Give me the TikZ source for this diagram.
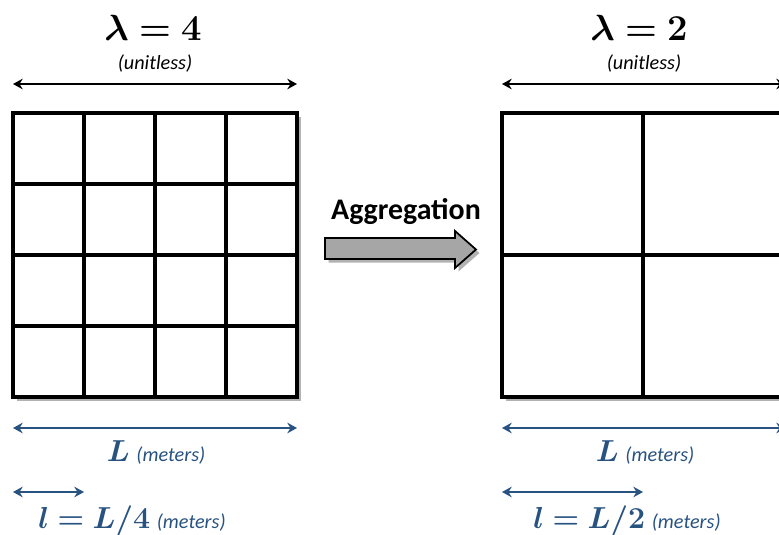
\documentclass[tikz,border=0pt]{standalone}
\usepackage[no-math]{fontspec}
\setmainfont{Carlito}
\usepackage{bm}
\usetikzlibrary{arrows.meta,shadows}
\definecolor{dimblue}{RGB}{40,82,128}
\definecolor{arrowgray}{RGB}{166,166,166}
\tikzset{
  cell/.style={line width=2pt},
  dimline/.style={line width=1.1pt,{Stealth[length=5.5pt,width=6pt]}-{Stealth[length=5.5pt,width=6pt]}},
  unittext/.style={font=\fontsize{11.5}{13}\selectfont\itshape},
  gridshadow/.style={drop shadow={shadow xshift=2.5pt,shadow yshift=-2.5pt,opacity=0.3,fill=black}},
  lambdatext/.style={font=\fontsize{20}{24}\selectfont},
  lengthtext/.style={dimblue,anchor=base,font=\fontsize{17}{20}\selectfont},
}
\begin{document}
\begin{tikzpicture}[x=0.02cm,y=-0.02cm]
\useasboundingbox (0,0) rectangle (779,535);

% fine grid, lambda = 4
\node[lambdatext] (lamA) at (153,28) {$\bm{\lambda = 4}$};
\node[unittext,anchor=base] (unitA) at (155,69) {(unitless)};
\coordinate (topA1) at (13,84);
\coordinate (topA2) at (297,84);
\draw[dimline] (topA1) -- (topA2);

\draw[cell,fill=white,gridshadow] (13,113) rectangle (297,397);
\foreach \x in {84,155,226} \draw[cell] (\x,113) -- (\x,397);
\foreach \y in {184,255,326} \draw[cell] (13,\y) -- (297,\y);

\coordinate (bigA1) at (13,428);
\coordinate (bigA2) at (297,428);
\draw[dimline,dimblue] (bigA1) -- (bigA2);
\node[lengthtext] (lenA) at (156,461) {$\bm{L}$ {\fontsize{11.5}{13}\selectfont\itshape (meters)}};
\coordinate (smallA1) at (13,492);
\coordinate (smallA2) at (84,492);
\draw[dimline,dimblue] (smallA1) -- (smallA2);
\node[lengthtext] (cellA) at (132,528) {$\bm{l = L/4}$ {\fontsize{11.5}{13}\selectfont\itshape (meters)}};

% aggregation arrow
\node[font=\fontsize{17}{19}\selectfont\bfseries,anchor=base] (agg) at (406,219) {Aggregation};
\draw[line width=1pt,fill=arrowgray,drop shadow={shadow xshift=2pt,shadow yshift=-2pt,opacity=0.3,fill=black}]
  (325,238) -- (455,238) -- (455,231) -- (476,249.5) -- (455,268) -- (455,259) -- (325,259) -- cycle;

% coarse grid, lambda = 2
\node[lambdatext] (lamB) at (639,28) {$\bm{\lambda = 2}$};
\node[unittext,anchor=base] (unitB) at (644,69) {(unitless)};
\coordinate (topB1) at (502,84);
\coordinate (topB2) at (786,84);
\draw[dimline] (topB1) -- (topB2);

\draw[cell,fill=white,gridshadow] (502,113) rectangle (786,397);
\draw[cell] (643,113) -- (643,397);
\draw[cell] (502,255) -- (786,255);

\coordinate (bigB1) at (502,428);
\coordinate (bigB2) at (786,428);
\draw[dimline,dimblue] (bigB1) -- (bigB2);
\node[lengthtext] (lenB) at (645,461) {$\bm{L}$ {\fontsize{11.5}{13}\selectfont\itshape (meters)}};
\coordinate (smallB1) at (502,492);
\coordinate (smallB2) at (643,492);
\draw[dimline,dimblue] (smallB1) -- (smallB2);
\node[lengthtext] (cellB) at (627,528) {$\bm{l = L/2}$ {\fontsize{11.5}{13}\selectfont\itshape (meters)}};
\end{tikzpicture}
\end{document}
